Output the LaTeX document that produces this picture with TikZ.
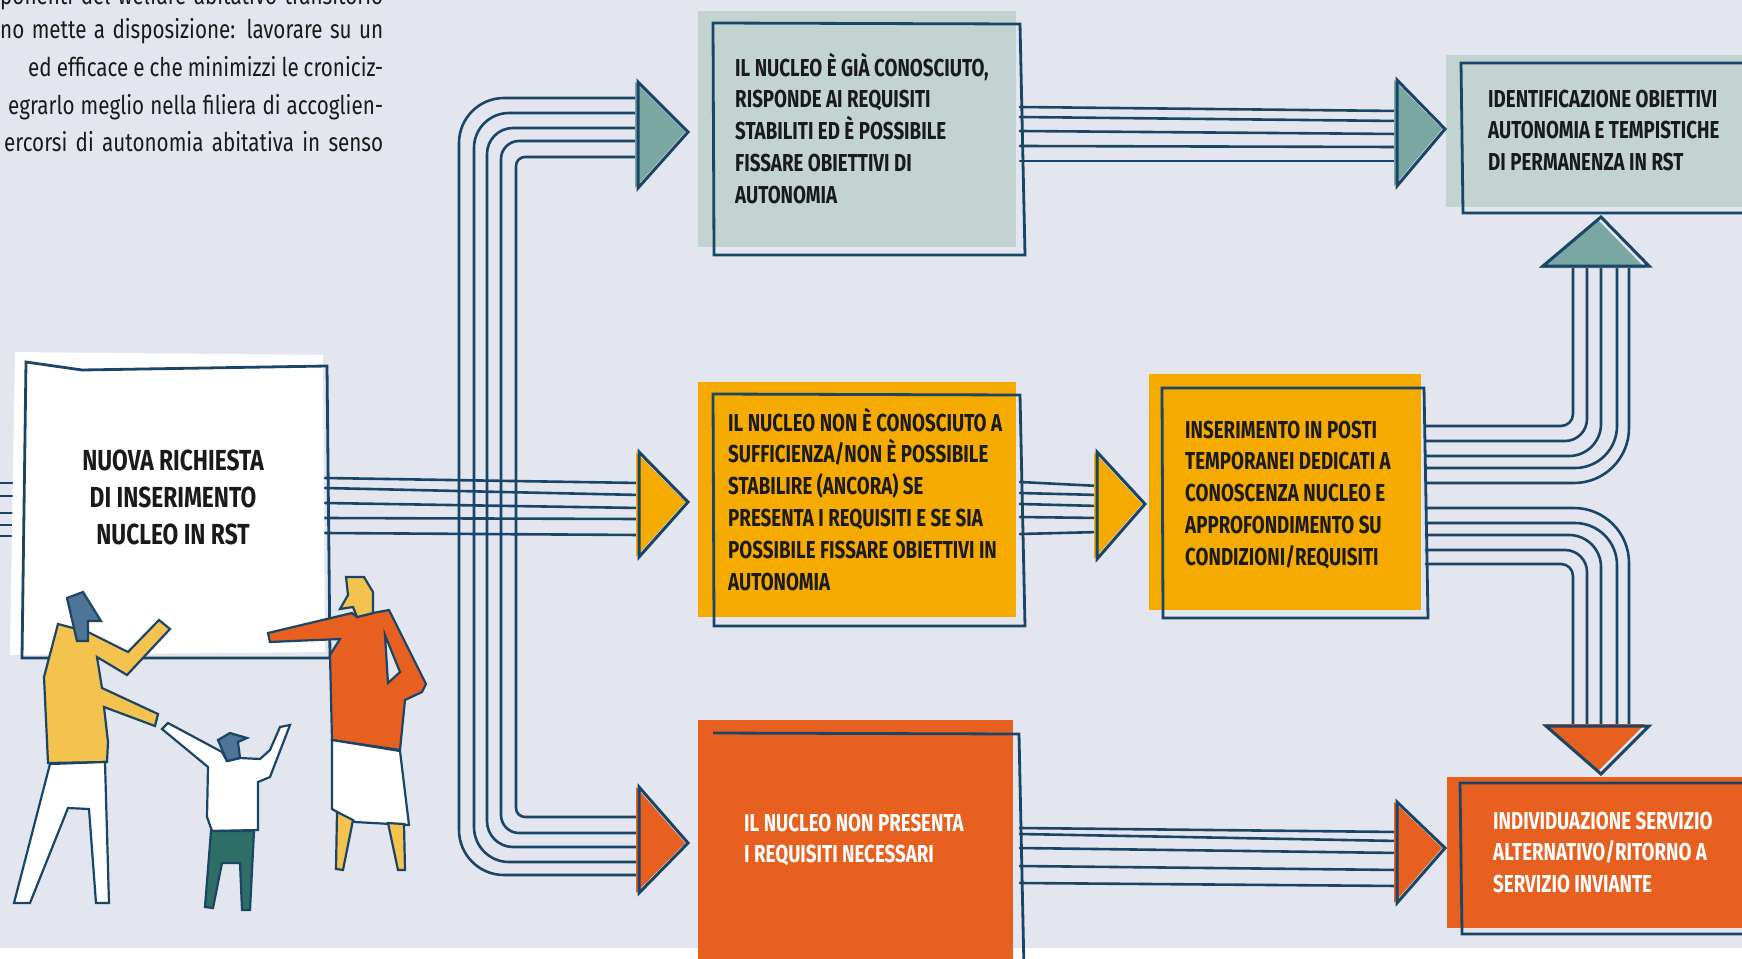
\documentclass[tikz,border=0pt]{standalone}
\usepackage{fontspec}
\newfontfamily\cond{Fira Sans}[FakeStretch=0.765]
\newfontfamily\condwide{Fira Sans}[FakeStretch=0.785]
\newfontfamily\condtext{Fira Sans}[FakeStretch=0.8]
\definecolor{page}{HTML}{E3E6EE}
\definecolor{outl}{HTML}{1B4566}
\definecolor{ink}{HTML}{1A1A1A}
\definecolor{tealbox}{HTML}{C2D3D2}
\definecolor{tealtri}{HTML}{7BA7A2}
\definecolor{amber}{HTML}{F5AA00}
\definecolor{rust}{HTML}{E8601F}
\definecolor{shirt}{HTML}{F3C24F}
\definecolor{hair}{HTML}{4E7598}
\definecolor{pine}{HTML}{2E6E66}
\tikzset{
  wire/.style={draw=outl, line width=2.6pt, line join=round, line cap=round},
  frame/.style={draw=outl, line width=2.8pt, line join=miter},
  tri/.style={draw=outl, line width=3pt, line join=miter},
  figure/.style={draw=outl, line width=2.2pt, line join=miter},
  boxtext/.style={anchor=base west, inner sep=0pt, text=ink,
    font=\cond\bfseries\fontsize{24.5}{31.8}\selectfont},
  paratext/.style={anchor=base west, inner sep=0pt, text=ink,
    font=\condtext\fontsize{25.8}{37.5}\selectfont},
}
\begin{document}
\begin{tikzpicture}[x=1pt,y=-1pt]
\useasboundingbox (0,0) rectangle (1742,958);
\clip (0,0) rectangle (1742,958);
\fill[white] (0,0) rectangle (1742,958);
\fill[page] (0,0) rectangle (1742,948);

% running text of the page, cut at the left margin
\node[paratext] (p1) at (0,5) {\makebox[383pt][s]{ponenti del welfare abitativo transitorio}};
\node[paratext] (p2) at (0,39) {\makebox[383pt][s]{no mette a disposizione: lavorare su un}};
\node[paratext] (p3) at (28,76.5) {\makebox[355pt][s]{ed efficace e che minimizzi le croniciz-}};
\node[paratext] (p4) at (8,114) {\makebox[375pt][s]{egrarlo meglio nella filiera di accoglien-}};
\node[paratext] (p5) at (4,151.5) {\makebox[379pt][s]{ercorsi di autonomia abitativa in senso}};

% bundles of wires
\foreach \y in {483,496,513,525,536}
  \draw[wire] (-5,\y) -- (30,\y);
\foreach \x/\yt/\yb/\r in {459/98/875/45, 474/113/862/35, 487/128/847/26, 501/141/833/18, 516/157/817/9}
  \draw[wire, rounded corners=\r pt] (641,\yt) -- (560,\yt) -- (\x,\yt) -- (\x,\yb) -- (560,\yb) -- (641,\yb);
\foreach \ya/\yb in {478/483, 488/495, 503/508, 518/519, 533/535}
  \draw[wire] (325,\ya) -- (480,{(\ya+\yb)/2}) -- (641,\yb);
\foreach \ya/\yb in {107/111, 117/121, 131/134, 146/147, 161/161}
  \draw[wire] (1020,\ya) -- (1210,{(\ya+\yb)/2}) -- (1399,\yb);
\foreach \ya/\yb in {482/486, 493/495, 504/506, 517/518, 534/532}
  \draw[wire] (1020,\ya) -- (1099,\yb);
\foreach \ya/\yb in {828/832, 834/841, 848/853, 866/870, 883/886}
  \draw[wire] (1020,\ya) -- (1210,{(\ya+\yb)/2}) -- (1399,\yb);
\foreach \y/\x/\r in {426/1573/12, 441/1587/22, 456/1601/32, 468/1617/42, 483/1629/55}
  \draw[wire, rounded corners=\r pt] (1426,\y) -- (\x,\y) -- (\x,266);
\foreach \y/\x/\r in {508/1629/55, 523/1617/42, 535/1601/32, 550/1587/22, 564/1573/12}
  \draw[wire, rounded corners=\r pt] (1426,\y) -- (\x,\y) -- (\x,726);

% starting sheet
\fill[white] (15,352) -- (323,355) -- (325,652) -- (10,655) -- cycle;
\draw[frame] (26,362) -- (82,370) -- (327,366) -- (330,658) -- (22,658) -- cycle;

% boxes: flat colour with a slightly shifted frame
\fill[tealbox] (698,11) rectangle (1016,247);
\draw[frame] (713,23) -- (1020,24) -- (1025,255) -- (714,255) -- cycle;
\fill[amber] (698,382) rectangle (1016,617);
\draw[frame] (713,394) -- (1020,395) -- (1025,626) -- (714,626) -- cycle;
\fill[rust] (698,720) rectangle (1013,970);
\draw[frame] (713,733) -- (1019,734) -- (1024,970) -- (714,970);
\fill[amber] (1149,374) rectangle (1421,610);
\draw[frame] (1162,388) -- (1424,388) -- (1428,618) -- (1163,618) -- cycle;
\fill[tealbox] (1446,55) rectangle (1760,207);
\draw[frame] (1760,63) -- (1461,63) -- (1463,213) -- (1760,213);
\fill[rust] (1447,777) rectangle (1760,928);
\draw[frame] (1760,783) -- (1460,783) -- (1462,934) -- (1760,934);

% arrow heads
\fill[tealtri, shift={(-3,0)}] (638,82) -- (688,132) -- (638,188) -- cycle;
\draw[tri] (638,82) -- (688,132) -- (638,188) -- cycle;
\fill[amber, shift={(-3,0)}] (639,452) -- (688,502) -- (639,557) -- cycle;
\draw[tri] (639,452) -- (688,502) -- (639,557) -- cycle;
\fill[rust, shift={(-3,0)}] (639,787) -- (688,843) -- (639,893) -- cycle;
\draw[tri] (639,787) -- (688,843) -- (639,893) -- cycle;
\fill[amber, shift={(-3,0)}] (1097,452) -- (1145,504) -- (1097,559) -- cycle;
\draw[tri] (1097,452) -- (1145,504) -- (1097,559) -- cycle;
\fill[tealtri, shift={(-3,0)}] (1397,80) -- (1445,129) -- (1397,186) -- cycle;
\draw[tri] (1397,80) -- (1445,129) -- (1397,186) -- cycle;
\fill[rust, shift={(-3,0)}] (1397,802) -- (1445,848) -- (1397,903) -- cycle;
\draw[tri] (1397,802) -- (1445,848) -- (1397,903) -- cycle;
\fill[tealtri, shift={(-4,2)}] (1543,266) -- (1601,217) -- (1649,266) -- cycle;
\draw[tri] (1543,266) -- (1601,217) -- (1649,266) -- cycle;
\fill[rust, shift={(-4,-2)}] (1546,726) -- (1601,774) -- (1649,726) -- cycle;
\draw[tri] (1546,726) -- (1601,774) -- (1649,726) -- cycle;

% texts
\node[boxtext, anchor=base, font=\condwide\bfseries\fontsize{29}{37}\selectfont] (nG) at (173,470)
  {\vtop{\hbox to 0pt{\hss NUOVA RICHIESTA\hss}\hbox to 0pt{\hss DI INSERIMENTO\hss}\hbox to 0pt{\hss NUCLEO IN RST\hss}}};
\node[boxtext] (nA) at (735,76)
  {\vtop{\hbox{IL NUCLEO È GIÀ CONOSCIUTO,}\hbox{RISPONDE AI REQUISITI}\hbox{STABILITI ED È POSSIBILE}\hbox{FISSARE OBIETTIVI DI}\hbox{AUTONOMIA}}};
\node[boxtext] (nB) at (728,431)
  {\vtop{\hbox{IL NUCLEO NON È CONOSCIUTO A}\hbox{SUFFICIENZA/NON È POSSIBILE}\hbox{STABILIRE (ANCORA) SE}\hbox{PRESENTA I REQUISITI E SE SIA}\hbox{POSSIBILE FISSARE OBIETTIVI IN}\hbox{AUTONOMIA}}};
\node[boxtext, text=white] (nC) at (744,831)
  {\vtop{\hbox{IL NUCLEO NON PRESENTA}\hbox{I REQUISITI NECESSARI}}};
\node[boxtext] (nD) at (1185,438)
  {\vtop{\hbox{INSERIMENTO IN POSTI}\hbox{TEMPORANEI DEDICATI A}\hbox{CONOSCENZA NUCLEO E}\hbox{APPROFONDIMENTO SU}\hbox{CONDIZIONI/REQUISITI}}};
\node[boxtext] (nE) at (1488,107)
  {\vtop{\hbox{IDENTIFICAZIONE OBIETTIVI}\hbox{AUTONOMIA E TEMPISTICHE}\hbox{DI PERMANENZA IN RST}}};
\node[boxtext, text=white] (nF) at (1493,829)
  {\vtop{\hbox{INDIVIDUAZIONE SERVIZIO}\hbox{ALTERNATIVO/RITORNO A}\hbox{SERVIZIO INVIANTE}}};

% people: left adult
\filldraw[figure, fill=shirt] (58,624) -- (88,632) -- (128,652) -- (159,620) -- (170,629) -- (127,675)
  -- (97,657) -- (102,688) -- (158,714) -- (155,726) -- (104,707) -- (108,742) -- (107,762)
  -- (48,763) -- (44,677) -- cycle;
\filldraw[figure, fill=hair] (67,598) -- (83,592) -- (101,621) -- (88,621) -- (88,641) -- (77,641) -- cycle;
\filldraw[figure, fill=white] (50,764) -- (105,762) -- (109,903) -- (96,903) -- (89,809) -- (68,808)
  -- (30,903) -- (14,903) -- cycle;
% people: right adult
\filldraw[figure, fill=rust] (268,633) -- (352,613) -- (357,617) -- (373,613) -- (389,610) -- (426,684)
  -- (422,692) -- (405,700) -- (400,750) -- (332,740) -- (330,655) -- (340,639) -- (270,642) -- cycle;
\filldraw[figure, fill=page] (385,635) -- (400,672) -- (388,683) -- cycle;
\filldraw[figure, fill=shirt] (346,577) -- (364,577) -- (373,592) -- (373,613) -- (357,617) -- (353,607)
  -- (340,609) -- (348,595) -- cycle;
\filldraw[figure, fill=white] (332,740) -- (400,751) -- (409,825) -- (355,822) -- (332,809) -- cycle;
\filldraw[figure, fill=shirt] (337,812) -- (353,820) -- (343,870) -- (336,869) -- cycle;
\filldraw[figure, fill=shirt] (388,823) -- (404,824) -- (405,870) -- (398,870) -- cycle;
% people: child
\filldraw[figure, fill=white] (162,729) -- (168,723) -- (222,752) -- (227,761) -- (240,758) -- (260,759)
  -- (270,750) -- (280,727) -- (290,725) -- (270,777) -- (258,782) -- (258,830) -- (212,831)
  -- (207,817) -- (208,767) -- cycle;
\filldraw[figure, fill=hair] (218,740) -- (230,733) -- (247,738) -- (238,742) -- (240,758) -- (227,761) -- cycle;
\filldraw[figure, fill=pine] (211,831) -- (254,831) -- (250,910) -- (242,910) -- (240,863) -- (222,863)
  -- (213,908) -- (205,907) -- cycle;
\end{tikzpicture}
\end{document}
